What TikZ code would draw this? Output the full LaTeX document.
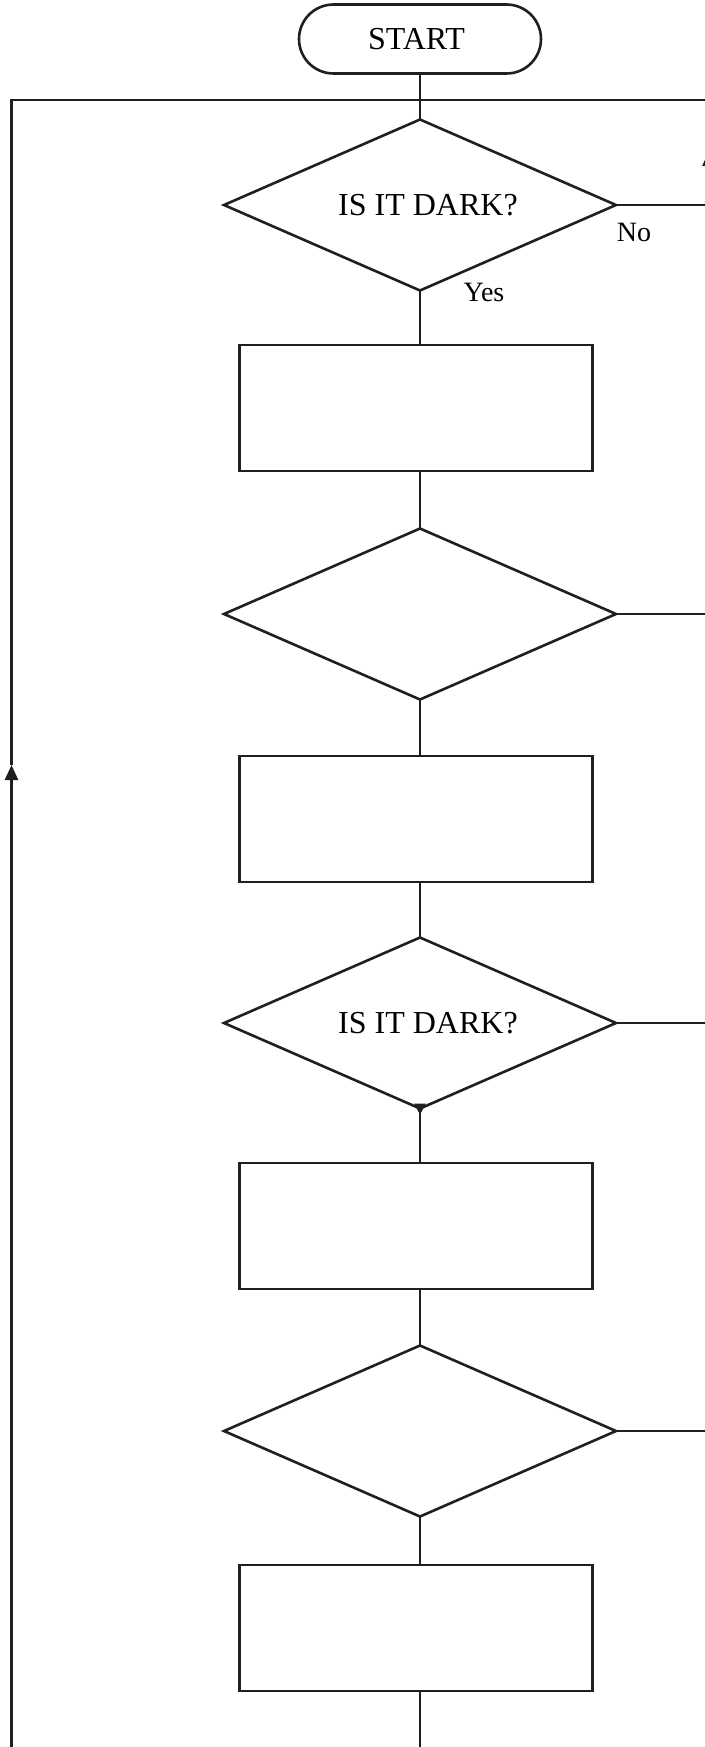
\documentclass[tikz,border=0pt]{standalone}
\usepackage{fontspec}
\setmainfont{Liberation Serif}
\usetikzlibrary{shapes.geometric,shapes.misc,arrows.meta,calc}
\tikzset{
  ln/.style={line width=2.6pt, draw=black!88},
  termbox/.style={ln, rounded rectangle, minimum width=242pt, minimum height=69pt, inner sep=0pt, outer sep=0pt},
  decbox/.style={ln, diamond, shape aspect=2.28, minimum width=392pt, minimum height=171pt, inner sep=0pt, outer sep=0pt},
  procbox/.style={ln, rectangle, minimum width=353pt, minimum height=126pt, inner sep=0pt, outer sep=0pt},
  btext/.style={font=\fontsize{32}{38}\selectfont, inner sep=0pt},
  lbl/.style={font=\fontsize{28}{32}\selectfont, inner sep=0pt},
  bigtip/.style={-{Triangle[length=15pt,width=13pt]}},
}
\begin{document}
\begin{tikzpicture}[x=1pt,y=-1pt]
\useasboundingbox (0,0) rectangle (704,1747);
% nodes
\node[termbox] (start) at (420,39) {};
\node[btext] (tstart) at (416.5,39) {START};
\node[decbox] (d1) at (420,205) {};
\node[btext] (t1) at (428,205) {IS IT DARK?};
\node[procbox] (r1) at (416,408) {};
\node[decbox] (d2) at (420,614) {};
\node[procbox] (r2) at (416,819) {};
\node[decbox] (d3) at (420,1023) {};
\node[btext] (t3) at (428,1023) {IS IT DARK?};
\node[procbox] (r3) at (416,1226) {};
\node[decbox] (d4) at (420,1431) {};
\node[procbox] (r4) at (416,1628) {};
\node[lbl] (no) at (634,232) {No};
\node[lbl] (yes) at (484,292) {Yes};
% helper coordinates
\coordinate (lb) at (11.5,1765);
\coordinate (la) at (11.5,765);
\coordinate (lt) at (11.5,100);
\coordinate (rt) at (720,100);
\coordinate (rv1) at (709,205);
\coordinate (ra) at (709,151);
\coordinate (rv0) at (709,100);
\coordinate (e2) at (720,614);
\coordinate (e3) at (720,1023);
\coordinate (e4) at (720,1431);
\coordinate (bb) at (420,1765);
% connectors
\draw[ln] (start) -- (d1);
\draw[ln] (d1) -- (420,345);
\draw[ln] (r1.south -| d1.south) -- (d2.north);
\draw[ln] (d2.south) -- (r2.north -| d2.south);
\draw[ln] (r2.south -| d2.south) -- (d3.north);
\draw[ln] (d3.south) -- (r3.north -| d3.south);
\draw[ln] (r3.south -| d3.south) -- (d4.north);
\draw[ln] (d4.south) -- (r4.north -| d4.south);
\draw[ln] (r4.south -| d4.south) -- (bb);
\fill[black!88] ($(d3.south)+(-6,-5)$) -- ++(12,0) -- ++(-6,11) -- cycle;
% loop on the left
\draw[ln,bigtip] (lb) -- (la);
\draw[ln] (la) -- (lt) -- (rt);
% right side
\draw[ln] (d1.east) -- (rv1);
\draw[ln,bigtip] (rv1) -- (ra);
\draw[ln] (ra) -- (rv0);
\draw[ln] (d2.east) -- (e2);
\draw[ln] (d3.east) -- (e3);
\draw[ln] (d4.east) -- (e4);
\end{tikzpicture}
\end{document}
